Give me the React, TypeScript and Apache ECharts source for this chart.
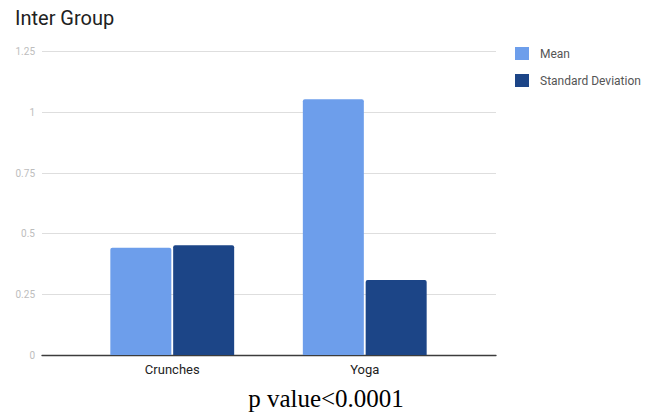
import React, { useEffect, useRef } from "react";
import * as echarts from "echarts";

const categories = ["Crunches", "Yoga"];
const seriesNames = ["Mean", "Standard Deviation"];
const meanValues = [0.442, 1.054];
const sdValues = [0.452, 0.309];
const yTicks = { min: 0, max: 1.25, interval: 0.25 };
const titleText = "Inter Group";
const captionText = "p value<0.0001";

const FONT = "Roboto, 'Noto Sans', sans-serif";

export default function App() {
  const ref = useRef<HTMLDivElement>(null);

  useEffect(() => {
    if (!ref.current) return;
    const chart = echarts.init(ref.current, undefined, { renderer: "svg" });

    const top = 51.7;
    const bottom = 57;

    chart.setOption({
      animation: false,
      backgroundColor: "#ffffff",
      textStyle: { fontFamily: FONT },
      title: {
        text: titleText,
        left: 15,
        top: 8,
        padding: 0,
        textStyle: {
          fontSize: 20,
          fontWeight: "normal",
          color: "#212121",
          fontFamily: FONT,
        },
      },
      legend: {
        orient: "vertical",
        left: 515,
        top: 47,
        padding: 0,
        itemWidth: 14,
        itemHeight: 13,
        itemGap: 14,
        icon: "rect",
        data: seriesNames,
        textStyle: {
          fontSize: 12,
          color: "#555555",
          fontFamily: FONT,
          padding: [0, 0, 0, 6],
        },
      },
      grid: [
        // full-width grid carrying the gridlines and baseline
        { left: 42, right: 158, top, bottom },
        // narrower grid in which the category bands sit
        { left: 76, right: 193, top, bottom },
      ],
      xAxis: [
        {
          type: "category",
          gridIndex: 0,
          data: [""],
          axisLine: { show: true, lineStyle: { color: "#3c3c3c", width: 1.3 } },
          axisTick: { show: false },
          axisLabel: { show: false },
          splitLine: { show: false },
        },
        {
          type: "category",
          gridIndex: 1,
          data: categories,
          axisLine: { show: false },
          axisTick: { show: false },
          axisLabel: {
            color: "#222222",
            fontSize: 13,
            margin: 8,
            fontFamily: FONT,
          },
          splitLine: { show: false },
        },
      ],
      yAxis: [
        {
          type: "value",
          gridIndex: 0,
          min: yTicks.min,
          max: yTicks.max,
          interval: yTicks.interval,
          axisLine: { show: false },
          axisTick: { show: false },
          axisLabel: {
            color: "#bdbdbd",
            fontSize: 10,
            margin: 7,
            fontFamily: FONT,
          },
          splitLine: { lineStyle: { color: "#dedede", width: 1 } },
        },
        {
          type: "value",
          gridIndex: 1,
          min: yTicks.min,
          max: yTicks.max,
          interval: yTicks.interval,
          show: false,
          splitLine: { show: false },
        },
      ],
      series: [
        {
          name: seriesNames[0],
          type: "bar",
          xAxisIndex: 1,
          yAxisIndex: 1,
          data: meanValues,
          barWidth: 61,
          barGap: "3%",
          itemStyle: { color: "#6d9eeb", borderRadius: [2, 2, 0, 0] },
        },
        {
          name: seriesNames[1],
          type: "bar",
          xAxisIndex: 1,
          yAxisIndex: 1,
          data: sdValues,
          barWidth: 61,
          barGap: "3%",
          itemStyle: { color: "#1c4587", borderRadius: [2, 2, 0, 0] },
        },
      ],
      graphic: [
        {
          type: "text",
          x: 326,
          y: 398,
          style: {
            text: captionText,
            font: "25px 'Liberation Serif', 'Times New Roman', serif",
            fill: "#000000",
            align: "center",
            verticalAlign: "middle",
          },
        },
      ],
    });

    return () => chart.dispose();
  }, []);

  return (
    <div
      ref={ref}
      style={{ position: "fixed", left: 0, top: 0, width: 654, height: 412 }}
    />
  );
}
